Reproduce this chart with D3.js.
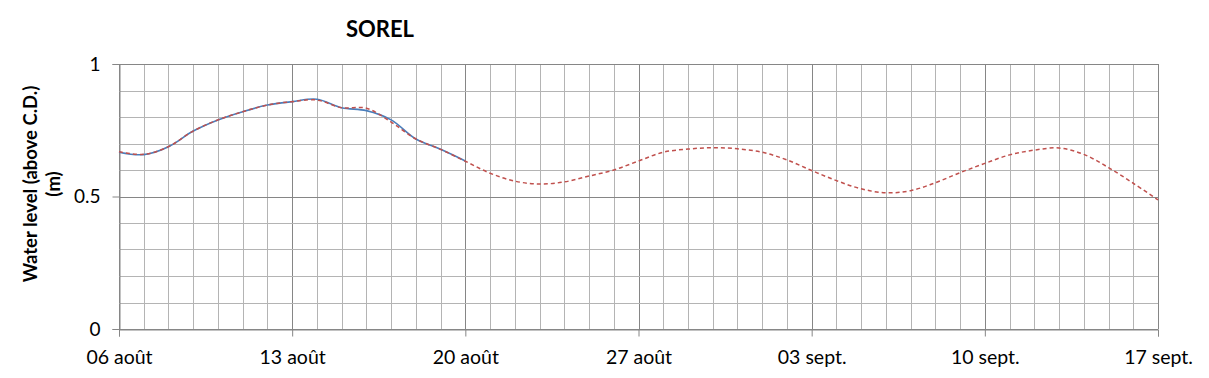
<!DOCTYPE html>
<html>
<head>
<meta charset="utf-8">
<script src="https://cdn.jsdelivr.net/npm/d3@7/dist/d3.min.js"></script>
<style>
  html, body { margin: 0; padding: 0; background: #fff; }
  svg text { font-family: Lato, "Open Sans", sans-serif; fill: #000; }
</style>
</head>
<body>
<svg id="chart" width="1209" height="378"></svg>
<script>
// ---- Data (day offsets from 06 août) ----
const chartTitle = "SOREL";
const yTitleLines = ["Water level (above C.D.)", "(m)"];
const xTickDays = [0, 7, 14, 21, 28, 35, 42];
const xTickLabels = ["06 août", "13 août", "20 août", "27 août", "03 sept.", "10 sept.", "17 sept."];
const yTickValues = [0, 0.5, 1];
const yTickLabels = ["0", "0.5", "1"];

const forecastDays = [0,1,2,3,4,5,6,7,8,9,10,11,12,13,14,15,16,17,18,19,20,21,22,23,24,25,26,27,28,29,30,31,32,33,34,35,36,37,38,39,40,41,42];
const forecastLevels = [0.669,0.659,0.688,0.747,0.789,0.820,0.845,0.858,0.864,0.835,0.833,0.781,0.717,0.678,0.633,
  0.588,0.558,0.547,0.555,0.577,0.600,0.634,0.667,0.679,0.684,0.680,0.667,0.638,0.598,0.560,0.529,0.514,0.522,
  0.552,0.590,0.625,0.657,0.675,0.683,0.659,0.609,0.550,0.487];

const observedDays = [0,1,2,3,4,5,6,7,8,9,10,11,12,13,14];
const observedLevels = [0.667,0.658,0.688,0.747,0.789,0.820,0.845,0.858,0.867,0.835,0.824,0.789,0.717,0.678,0.634];

// ---- Layout ----
const svg = d3.select("#chart");
const m = { left: 119, right: 1158, top: 64, bottom: 329 };

const x = d3.scaleLinear().domain([0, 42]).range([m.left, m.right]);
const y = d3.scaleLinear().domain([0, 1]).range([m.bottom, m.top]);

const minorColor = "#b4b4b4";
const majorColor = "#868686";

// grid
const g = svg.append("g");
g.selectAll("line.vx").data(d3.range(0, 43)).enter().append("line")
  .attr("x1", d => Math.round(x(d)) + 0.5).attr("x2", d => Math.round(x(d)) + 0.5)
  .attr("y1", m.top).attr("y2", m.bottom)
  .attr("stroke", d => d % 7 === 0 ? majorColor : minorColor).attr("stroke-width", 1);
g.selectAll("line.hy").data(d3.range(0, 11).map(i => i / 10)).enter().append("line")
  .attr("y1", d => Math.round(y(d)) + 0.5).attr("y2", d => Math.round(y(d)) + 0.5)
  .attr("x1", m.left).attr("x2", m.right)
  .attr("stroke", (d, i) => i % 5 === 0 ? majorColor : minorColor).attr("stroke-width", 1);

// axes
const yAxis = d3.axisLeft(y).tickValues(yTickValues).tickSize(7).tickPadding(12)
  .tickFormat((d, i) => yTickLabels[i]);
const yg = svg.append("g").attr("transform", `translate(${m.left + 0.5},0)`).call(yAxis);
yg.select(".domain").attr("stroke", majorColor);
yg.selectAll(".tick line").attr("stroke", majorColor);
yg.selectAll(".tick text").attr("font-size", 19).attr("font-family", "Lato").attr("fill", "#000");

const xAxis = d3.axisBottom(x).tickValues(xTickDays).tickSize(7).tickPadding(14)
  .tickFormat((d, i) => xTickLabels[i]);
const xg = svg.append("g").attr("transform", `translate(0,${m.bottom + 0.5})`).call(xAxis);
xg.select(".domain").attr("stroke", majorColor);
xg.selectAll(".tick line").attr("stroke", majorColor);
xg.selectAll(".tick text").attr("font-size", 19.5).attr("font-family", "Lato").attr("fill", "#000");

// lines
const line = d3.line().x(d => x(d[0])).y(d => y(d[1])).curve(d3.curveCatmullRom.alpha(0.5));

svg.append("path")
  .datum(observedDays.map((d, i) => [d, observedLevels[i]]))
  .attr("d", line).attr("fill", "none")
  .attr("stroke", "#4a7ebb").attr("stroke-width", 1.6);

svg.append("path")
  .datum(forecastDays.map((d, i) => [d, forecastLevels[i]]))
  .attr("d", line).attr("fill", "none")
  .attr("stroke", "#c0504d").attr("stroke-width", 1.5)
  .attr("stroke-dasharray", "4,3");

// title
svg.append("text").attr("x", 380).attr("y", 37).attr("text-anchor", "middle")
  .attr("font-size", 22).attr("font-weight", "bold").text(chartTitle);

// y title
const yt = svg.append("text").attr("transform", "translate(0,184) rotate(-90)")
  .attr("text-anchor", "middle").attr("font-size", 18.5).attr("font-weight", "bold");
yt.append("tspan").attr("x", 0).attr("y", 37).text(yTitleLines[0]);
yt.append("tspan").attr("x", 0).attr("y", 60).text(yTitleLines[1]);
</script>
</body>
</html>
